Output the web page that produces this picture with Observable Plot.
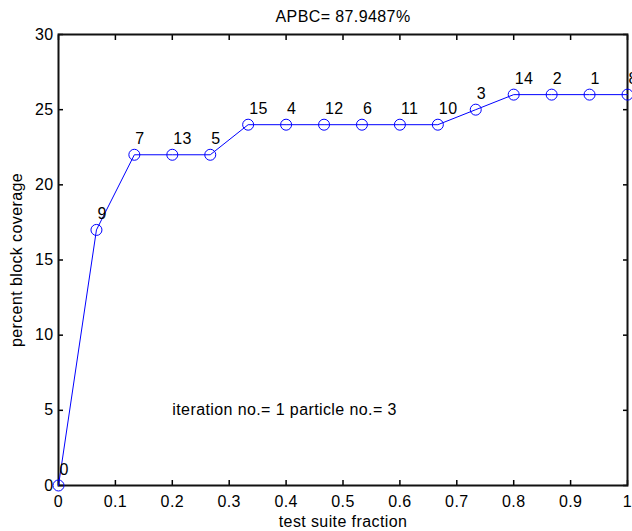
<!DOCTYPE html>
<html>
<head>
<meta charset="utf-8">
<script src="https://cdn.jsdelivr.net/npm/d3@7"></script>
<script src="https://cdn.jsdelivr.net/npm/@observablehq/plot@0.6"></script>
<style>
  html, body { margin: 0; padding: 0; background: white; overflow: hidden; }
</style>
</head>
<body>
<div id="chart"></div>
<script>
const titleText = "APBC= 87.9487%";
const xLabel = "test suite fraction";
const yLabel = "percent block coverage";
const note = "iteration no.= 1 particle no.= 3";
const noteX = 0.2;
const noteY = 5;

const fractions = [0, 0.0667, 0.1333, 0.2, 0.2667, 0.3333, 0.4, 0.4667, 0.5333, 0.6, 0.6667, 0.7333, 0.8, 0.8667, 0.9333, 1];
const coverage  = [0, 17, 22, 22, 22, 24, 24, 24, 24, 24, 24, 25, 26, 26, 26, 26];
const testIds   = ["0", "9", "7", "13", "5", "15", "4", "12", "6", "11", "10", "3", "14", "2", "1", "8"];

const xTicks = [0, 0.1, 0.2, 0.3, 0.4, 0.5, 0.6, 0.7, 0.8, 0.9, 1];
const yTicks = [0, 5, 10, 15, 20, 25, 30];

const data = fractions.map((f, i) => ({x: f, y: coverage[i], id: testIds[i]}));

const blue = "#0000ff";

const chart = Plot.plot({
  width: 632,
  height: 531,
  marginLeft: 58,
  marginRight: 5,
  marginTop: 34,
  marginBottom: 46,
  style: {fontFamily: "'Liberation Sans', Arial, sans-serif", fontSize: "16px", background: "white", color: "black", letterSpacing: "0.4px"},
  x: {domain: [0, 1]},
  y: {domain: [0, 30]},
  marks: [
    Plot.axisX({anchor: "bottom", ticks: xTicks, tickSize: -5, tickPadding: 15, tickFormat: d => String(d), label: null, strokeWidth: 1.5}),
    Plot.axisX({anchor: "top", ticks: xTicks, tickSize: -5, tickFormat: () => "", label: null, strokeWidth: 1.5}),
    Plot.axisY({anchor: "left", ticks: yTicks, tickSize: -5, tickPadding: 10, tickFormat: d => String(d), label: null, strokeWidth: 1.5}),
    Plot.axisY({anchor: "right", ticks: yTicks, tickSize: -5, tickFormat: () => "", label: null, strokeWidth: 1.5}),
    Plot.frame({stroke: "#111", strokeWidth: 2}),
    Plot.line(data, {x: "x", y: "y", stroke: blue, strokeWidth: 1}),
    Plot.dot(data, {x: "x", y: "y", r: 5.5, stroke: blue, fill: "none", strokeWidth: 1}),
    Plot.text(data, {x: "x", y: "y", text: "id", textAnchor: "start", dx: 1, dy: -16, fill: "black"}),
    Plot.text([note], {x: () => noteX, y: () => noteY, text: d => d, textAnchor: "start", fill: "black"}),
    Plot.text([titleText], {frameAnchor: "top", dy: -18, lineAnchor: "middle", textAnchor: "middle", text: d => d, fill: "black"}),
    Plot.text([xLabel], {frameAnchor: "bottom", dy: 36, lineAnchor: "middle", textAnchor: "middle", text: d => d, fill: "black"}),
    Plot.text([yLabel], {frameAnchor: "left", dx: -42, rotate: -90, lineAnchor: "middle", textAnchor: "middle", text: d => d, fill: "black"})
  ]
});
document.getElementById("chart").appendChild(chart);
</script>
</body>
</html>
